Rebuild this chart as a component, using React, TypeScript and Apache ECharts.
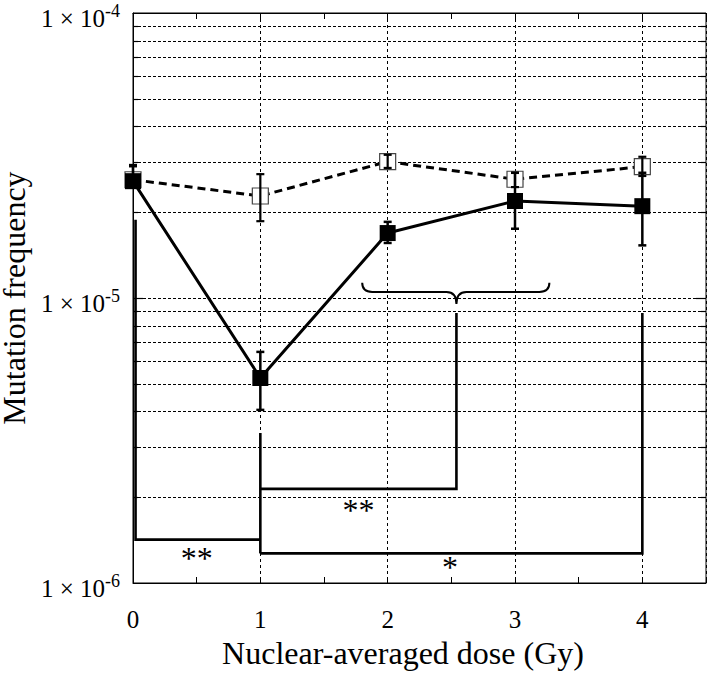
import React, { useEffect, useRef } from "react";
import * as echarts from "echarts";

// ---- data ----
const doses = [0, 1, 2, 3, 4];
const xTickLabels = ["0", "1", "2", "3", "4"];

const irradiatedMean = [2.57e-5, 5.24e-6, 1.69e-5, 2.19e-5, 2.1e-5];
const irradiatedLow = [2.45e-5, 4.05e-6, 1.56e-5, 1.75e-5, 1.53e-5];
const irradiatedHigh = [2.9e-5, 6.47e-6, 1.85e-5, 2.75e-5, 2.75e-5];

const controlMean = [2.6e-5, 2.28e-5, 3.01e-5, 2.61e-5, 2.89e-5];
const controlLow = [2.45e-5, 1.86e-5, 2.86e-5, 2.45e-5, 2.68e-5];
const controlHigh = [2.93e-5, 2.72e-5, 3.18e-5, 2.75e-5, 3.13e-5];

const X_MIN = 0;
const X_MAX = 4.5;
const Y_MIN = 1e-6;
const Y_MAX = 1e-4;

const yGridValues = [
  2e-6, 3e-6, 4e-6, 5e-6, 6e-6, 7e-6, 8e-6, 9e-6, 1e-5,
  2e-5, 3e-5, 4e-5, 5e-5, 6e-5, 7e-5, 8e-5, 9e-5,
];
const yMajorValues = [1e-5];

// significance brackets, in data coordinates (dose, frequency)
const bracketPaths: number[][][] = [
  [[0.02, 1.88e-5], [0.02, 1.42e-6], [1, 1.42e-6]],
  [[1, 3.36e-6], [1, 1.27e-6]],
  [[1, 1.27e-6], [4, 1.27e-6], [4, 8.86e-6]],
  [[1, 2.14e-6], [2.54, 2.14e-6], [2.54, 8.86e-6]],
];
// curly brace: left end, tip, right end (x); end, flat, tip (y)
const braceX = [1.8, 2.54, 3.27];
const braceY = [1.13e-5, 1.05e-5, 9.53e-6];

const starX = [0.5, 1.77, 2.49];
const starY = [1.224e-6, 1.8e-6, 1.138e-6];
const starText = ["**", "**", "*"];

const FONT = '"Liberation Serif", "Times New Roman", serif';

function errorBarItem(api: any, capHalf: number, width: number) {
  const x = api.value(0);
  const lo = api.value(1);
  const hi = api.value(2);
  const a = api.coord([x, hi]);
  const b = api.coord([x, lo]);
  const style = { stroke: "#000", lineWidth: width };
  return {
    type: "group",
    children: [
      { type: "line", shape: { x1: a[0], y1: a[1], x2: b[0], y2: b[1] }, style },
      { type: "line", shape: { x1: a[0] - capHalf, y1: a[1], x2: a[0] + capHalf, y2: a[1] }, style },
      { type: "line", shape: { x1: b[0] - capHalf, y1: b[1], x2: b[0] + capHalf, y2: b[1] }, style },
    ],
  };
}

export default function App() {
  const ref = useRef<HTMLDivElement>(null);

  useEffect(() => {
    if (!ref.current) return;
    const chart = echarts.init(ref.current, null, { renderer: "svg" });

    const option: any = {
      animation: false,
      backgroundColor: "#fff",
      grid: {
        left: 133,
        top: 13,
        right: 2,
        bottom: 90,
        containLabel: false,
        outerBoundsMode: "none",
        show: true,
        borderColor: "#000",
        borderWidth: 1,
        backgroundColor: "transparent",
      },
      xAxis: [
        {
          type: "value",
          position: "bottom",
          min: X_MIN,
          max: X_MAX,
          interval: 0.5,
          name: "Nuclear-averaged dose (Gy)",
          nameLocation: "middle",
          nameGap: 50,
          nameTextStyle: {
            fontFamily: FONT,
            fontSize: 32,
            color: "#000",
            padding: [0, 33, 0, 0],
          },
          axisLine: { show: true, lineStyle: { color: "#000", width: 1 } },
          axisTick: { show: true, inside: true, length: 6, lineStyle: { color: "#000" } },
          axisLabel: {
            fontFamily: FONT,
            fontSize: 25,
            color: "#000",
            margin: 24,
            formatter: (v: number) =>
              Number.isInteger(v) && v >= 0 && v < xTickLabels.length ? xTickLabels[v] : "",
          },
          splitLine: { show: false },
        },
        {
          type: "value",
          position: "top",
          min: X_MIN,
          max: X_MAX,
          interval: 0.5,
          axisLine: { show: true, lineStyle: { color: "#000", width: 1 } },
          axisTick: { show: true, inside: true, length: 6, lineStyle: { color: "#000" } },
          axisLabel: { show: false },
          splitLine: { show: false },
        },
        {
          type: "value",
          position: "bottom",
          min: X_MIN,
          max: X_MAX,
          interval: 1,
          axisLine: { show: false },
          axisTick: { show: false },
          axisLabel: { show: false },
          splitLine: {
            show: true,
            lineStyle: { color: "#000", width: 1, type: [3, 3] },
          },
        },
      ],
      yAxis: {
        type: "log",
        logBase: 10,
        min: Y_MIN,
        max: Y_MAX,
        name: "Mutation frequency",
        nameLocation: "middle",
        nameRotate: 90,
        nameGap: 100,
        nameTextStyle: { fontFamily: FONT, fontSize: 32, color: "#000" },
        axisLine: { show: true, lineStyle: { color: "#000", width: 1 } },
        axisTick: { show: false },
        splitLine: { show: false },
        axisLabel: {
          margin: 13,
          fontFamily: FONT,
          fontSize: 25,
          color: "#000",
          padding: [10, 0, 0, 0],
          formatter: (v: number) => `{base|1 × 10}{sup|${Math.round(Math.log10(v))}}`,
          rich: {
            base: { fontFamily: FONT, fontSize: 25, color: "#000", lineHeight: 32 },
            sup: { fontFamily: FONT, fontSize: 18, color: "#000", lineHeight: 16, verticalAlign: "top" },
          },
        },
      },
      series: [
        {
          type: "custom",
          name: "grid",
          silent: true,
          z: 1,
          data: yGridValues.map((v) => [X_MIN, v]),
          renderItem: (params: any, api: any) => {
            const v = api.value(1);
            const p0 = api.coord([X_MIN, v]);
            const p1 = api.coord([X_MAX, v]);
            const y = Math.round(p0[1]) + 0.5;
            const major = yMajorValues.some((m) => Math.abs(m - v) / m < 1e-6);
            const tl = major ? 10 : 5;
            return {
              type: "group",
              children: [
                {
                  type: "line",
                  shape: { x1: p0[0], y1: y, x2: p1[0], y2: y },
                  style: { stroke: "#000", lineWidth: 1.2, lineDash: [3, 2] },
                },
                {
                  type: "line",
                  shape: { x1: p0[0], y1: y, x2: p0[0] + tl, y2: y },
                  style: { stroke: "#000", lineWidth: 1.2 },
                },
                {
                  type: "line",
                  shape: { x1: p1[0] - tl, y1: y, x2: p1[0], y2: y },
                  style: { stroke: "#000", lineWidth: 1.2 },
                },
              ],
            };
          },
        },
        {
          type: "custom",
          name: "brackets",
          silent: true,
          z: 3,
          data: bracketPaths.map((p) => p[0]),
          renderItem: (params: any, api: any) => {
            const pts = bracketPaths[params.dataIndex].map((p) => api.coord(p));
            return {
              type: "polyline",
              shape: { points: pts },
              style: { stroke: "#000", lineWidth: 2.6, fill: "none" },
            };
          },
        },
        {
          type: "custom",
          name: "brace",
          silent: true,
          z: 3,
          data: [[braceX[1], braceY[1]]],
          renderItem: (params: any, api: any) => {
            const l = api.coord([braceX[0], braceY[0]]);
            const lf = api.coord([braceX[0], braceY[1]]);
            const m = api.coord([braceX[1], braceY[1]]);
            const t = api.coord([braceX[1], braceY[2]]);
            const r = api.coord([braceX[2], braceY[0]]);
            const yf = lf[1];
            const rad = 10;
            const d =
              `M ${l[0]} ${l[1]} Q ${l[0]} ${yf} ${l[0] + rad} ${yf} ` +
              `L ${m[0] - rad} ${yf} Q ${m[0]} ${yf} ${t[0]} ${t[1]} ` +
              `Q ${m[0]} ${yf} ${m[0] + rad} ${yf} ` +
              `L ${r[0] - rad} ${yf} Q ${r[0]} ${yf} ${r[0]} ${r[1]}`;
            return {
              type: "path",
              shape: { pathData: d },
              style: { stroke: "#000", lineWidth: 2, fill: "none" },
            };
          },
        },
        {
          type: "custom",
          name: "stars",
          silent: true,
          z: 3,
          data: starX.map((x, i) => [x, starY[i]]),
          renderItem: (params: any, api: any) => {
            const p = api.coord([api.value(0), api.value(1)]);
            return {
              type: "text",
              x: p[0],
              y: p[1],
              style: {
                text: starText[params.dataIndex],
                fill: "#000",
                font: `32px ${FONT}`,
                align: "center",
                verticalAlign: "middle",
                textAlign: "center",
                textVerticalAlign: "middle",
              },
            };
          },
        },
        {
          type: "line",
          name: "control",
          z: 4,
          data: doses.map((d, i) => [d, controlMean[i]]),
          symbol: "rect",
          symbolSize: 16,
          lineStyle: { color: "#000", width: 3, type: [8, 5] },
          itemStyle: { color: "#fff", borderColor: "#444", borderWidth: 1.2 },
        },
        {
          type: "custom",
          name: "control error",
          silent: true,
          z: 5,
          data: doses.map((d, i) => [d, controlLow[i], controlHigh[i]]),
          encode: { x: 0, y: [1, 2] },
          renderItem: (params: any, api: any) => errorBarItem(api, 4, 2.2),
        },
        {
          type: "line",
          name: "irradiated",
          z: 6,
          data: doses.map((d, i) => [d, irradiatedMean[i]]),
          symbol: "rect",
          symbolSize: 16,
          lineStyle: { color: "#000", width: 3 },
          itemStyle: { color: "#000" },
        },
        {
          type: "custom",
          name: "irradiated error",
          silent: true,
          z: 7,
          data: doses.map((d, i) => [d, irradiatedLow[i], irradiatedHigh[i]]),
          encode: { x: 0, y: [1, 2] },
          renderItem: (params: any, api: any) => errorBarItem(api, 4, 2.5),
        },
      ],
    };

    chart.setOption(option);
    return () => chart.dispose();
  }, []);

  return (
    <div
      ref={ref}
      style={{ position: "absolute", left: 0, top: 0, width: 708, height: 673, background: "#fff" }}
    />
  );
}
